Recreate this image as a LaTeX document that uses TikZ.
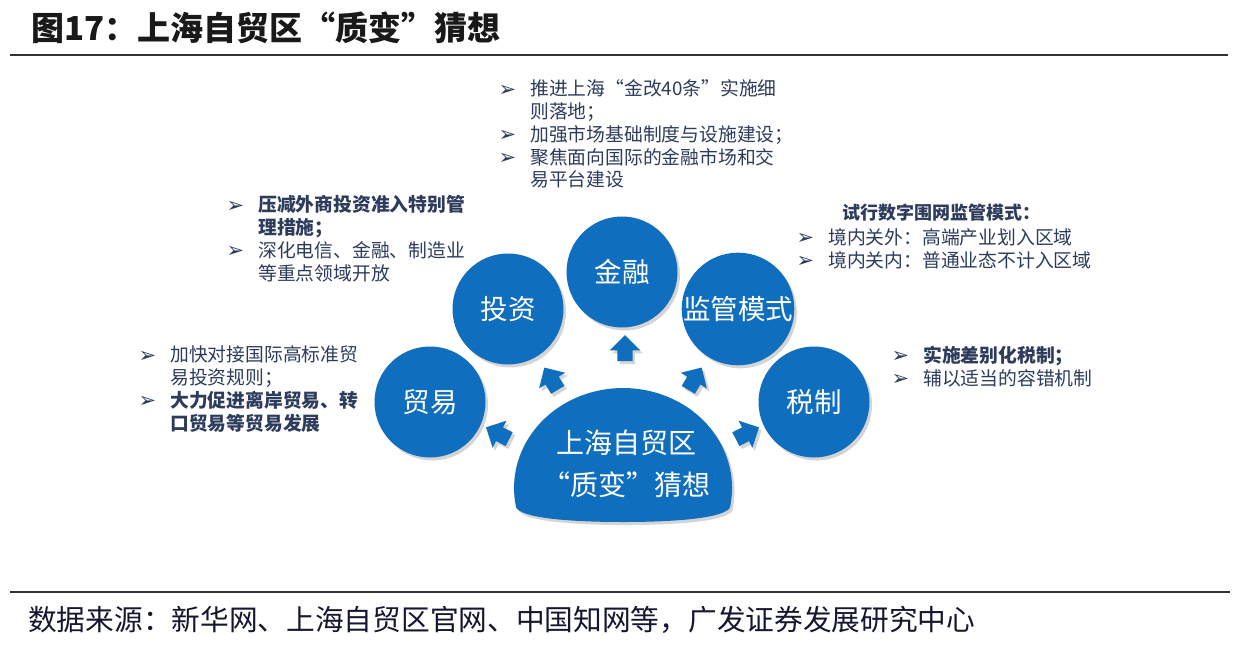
\documentclass[tikz,border=0pt]{standalone}
\usepackage{fontspec}
\setmainfont{Liberation Sans}
\newfontfamily\cjk{Noto Sans CJK SC}
\newfontfamily\symf{DejaVu Sans}
\usetikzlibrary{shapes.arrows,shadows}
\definecolor{cblue}{RGB}{15,110,190}
\definecolor{ctext}{RGB}{45,60,92}
\definecolor{ctitle}{RGB}{25,25,25}
\newcommand\bul{\makebox[30pt][l]{\symf\fontsize{21}{21}\selectfont\raisebox{-0.5pt}{\hspace*{-1.5pt}➢}}}
\newcommand\ind{\hspace*{30pt}}
\begin{document}
\begin{tikzpicture}[x=1pt,y=1pt,
  shad/.style={drop shadow={opacity=0.28,shadow xshift=2.5pt,shadow yshift=-3pt,fill=black!60}},
  bubble/.style={circle, fill=cblue, minimum size=111pt, inner sep=0pt, text=white,
    font=\cjk\fontsize{27.5}{27.5}\selectfont, shad},
  blockarrow/.style={single arrow, fill=cblue, draw=none, minimum height=26pt,
    inner xsep=0pt, inner ysep=7.5pt, single arrow head extend=7.5pt, shad},
  note/.style={anchor=base west, inner sep=0pt, align=left, text=ctext,
    font=\cjk\fontsize{18.8}{22.8}\selectfont},
  rulestyle/.style={line width=1.6pt, draw=black!80},
]
\useasboundingbox (0,0) rectangle (1238,649);
\fill[white] (0,0) rectangle (1238,649);

% title and rules
\node[anchor=base west, inner sep=0pt, text=ctitle, font=\cjk\bfseries\fontsize{33}{33}\selectfont]
  (title) at (31,608) {图17：上海自贸区“质变”猜想};
\coordinate (r1a) at (10,594);
\coordinate (r1b) at (1228,594);
\draw[rulestyle] (r1a) -- (r1b);
\coordinate (r2a) at (10,57);
\coordinate (r2b) at (1230,57);
\draw[rulestyle] (r2a) -- (r2b);
\node[anchor=base west, inner sep=0pt, text=ctitle!90!blue, font=\cjk\fontsize{28.7}{28.7}\selectfont]
  (src) at (28,19) {数据来源：新华网、上海自贸区官网、中国知网等，广发证券发展研究中心};

% dome
\path[fill=cblue, shad] (515.7,143.6) arc[start angle=190, end angle=-10, x radius=109pt, y radius=100pt]
  .. controls (731,133) and (690,127) .. (623,127)
  .. controls (556,127) and (515,133) .. (515.7,143.6) -- cycle;
\node[align=center, text=white, font=\cjk\fontsize{28}{42}\selectfont, inner sep=0pt]
  (core) at (626,185) {上海自贸区\\“质变”猜想};

% circles
\node[bubble] (trade) at (430,247) {贸易};
\node[bubble] (invest) at (508,340) {投资};
\node[bubble] (fin) at (622,377) {金融};
\node[bubble] (reg) at (738,340) {监管模式};
\node[bubble] (tax) at (814,247) {税制};

% arrows
\node[blockarrow, rotate=90] (a3) at (625,297) {};
\node[blockarrow, rotate=121] (a2) at (553,267) {};
\node[blockarrow, rotate=59] (a4) at (693,267) {};
\node[blockarrow, rotate=153] (a1) at (501,214) {};
\node[blockarrow, rotate=27] (a5) at (744,214) {};

% notes (anchor = baseline of last line)
\node[note] (nfin) at (500,462) {\bul 推进上海“金改40条”实施细\\ \ind 则落地；\\ \bul 加强市场基础制度与设施建设；\\ \bul 聚焦面向国际的金融市场和交\\ \ind 易平台建设};
\node[note] (ninv) at (228,369) {\bul {\bfseries 压减外商投资准入特别管}\\ \ind {\bfseries 理措施；}\\ \bul 深化电信、金融、制造业\\ \ind 等重点领域开放};
\node[note] (ntrade) at (140,219) {\bul 加快对接国际高标准贸\\ \ind 易投资规则；\\ \bul {\bfseries 大力促进离岸贸易、转}\\ \ind {\bfseries 口贸易等贸易发展}};
\node[note, font=\cjk\bfseries\fontsize{18}{22}\selectfont] (nreghd) at (842,429) {试行数字围网监管模式：};
\node[note] (nreg) at (798,382) {\bul 境内关外：高端产业划入区域\\ \bul 境内关内：普通业态不计入区域};
\node[note] (ntax) at (893,264) {\bul {\bfseries 实施差别化税制；}\\ \bul 辅以适当的容错机制};
\end{tikzpicture}
\end{document}
